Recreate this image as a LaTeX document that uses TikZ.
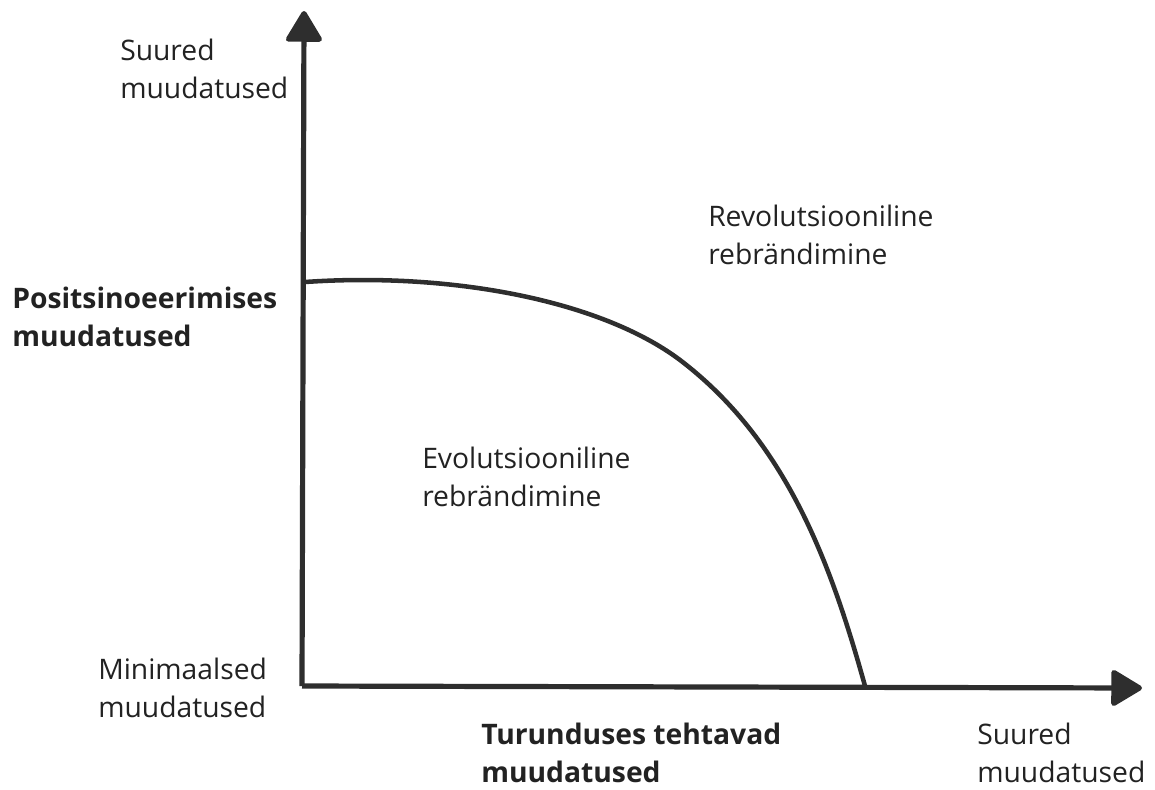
\documentclass[tikz,border=0pt]{standalone}
\usepackage{fontspec}
\setmainfont{Open Sans}
\usetikzlibrary{arrows.meta}
\definecolor{ink}{HTML}{2E2E2E}
\definecolor{txt}{HTML}{222222}
\tikzset{
  axis/.style={draw=ink, line width=3.9pt, -{Triangle[width=29pt,length=25pt,round]}},
  curve/.style={draw=ink, line width=3.4pt},
  lbl/.style={anchor=west, align=left, inner sep=0pt, text=txt, font=\fontsize{21.2}{28.5}\selectfont},
  blbl/.style={lbl, font=\fontsize{21.2}{28.5}\selectfont\bfseries}
}
\begin{document}
\begin{tikzpicture}[x=0.75pt,y=-0.75pt]
\useasboundingbox (0,0) rectangle (1155,789);
\coordinate (o) at (302,686);
\coordinate (ytip) at (304,11);
\coordinate (xtip) at (1142,688);
\coordinate (cs) at (305,282);
\coordinate (cm) at (680,360);
\coordinate (ce) at (865,686);
\draw[axis] (o) -- (ytip);
\draw[axis] (o) -- (xtip);
\draw[curve] (cs) .. controls (450,272) and (600,300) .. (cm) .. controls (785,440) and (830,560) .. (ce);
\node[lbl] (ytop) at (120,69) {Suured\\muudatused};
\node[lbl] (revo) at (708,235) {Revolutsiooniline\\rebrändimine};
\node[blbl] (ylab) at (12,317) {Positsinoeerimises\\muudatused};
\node[lbl] (evo) at (422,477) {Evolutsiooniline\\rebrändimine};
\node[lbl] (ymin) at (98,688) {Minimaalsed\\muudatused};
\node[blbl] (xlab) at (481,753) {Turunduses tehtavad\\muudatused};
\node[lbl] (xtop) at (977,753) {Suured\\muudatused};
\end{tikzpicture}
\end{document}
